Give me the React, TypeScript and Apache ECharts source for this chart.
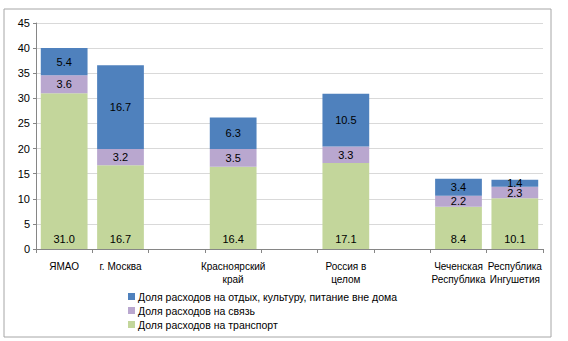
import React, { useEffect, useRef } from "react";
import * as echarts from "echarts";

const categories = ["ЯМАО", "г. Москва", "", "Красноярский\nкрай", "", "Россия в\nцелом", "", "Чеченская\nРеспублика", "Республика\nИнгушетия"];
const seriesNames = [
  "Доля расходов на отдых, культуру, питание вне дома",
  "Доля расходов на связь",
  "Доля расходов на транспорт",
];
const transport = [31.0, 16.7, null, 16.4, null, 17.1, null, 8.4, 10.1];
const communication = [3.6, 3.2, null, 3.5, null, 3.3, null, 2.2, 2.3];
const leisure = [5.4, 16.7, null, 6.3, null, 10.5, null, 3.4, 1.4];
const yTicks = { min: 0, max: 45, interval: 5 };

export default function App() {
  const ref = useRef<HTMLDivElement>(null);
  useEffect(() => {
    if (!ref.current) return;
    const chart = echarts.init(ref.current, null, { renderer: "svg" });
    const lbl = (pos: any, dist = 5) => ({
      show: true,
      position: pos,
      distance: dist,
      color: "#000",
      fontSize: 11,
      fontFamily: "Liberation Sans, Arial, sans-serif",
      formatter: (p: any) => (p.value == null ? "" : Number(p.value).toFixed(1)),
    });
    chart.setOption({
      animation: false,
      backgroundColor: "#fff",
      graphic: [
        {
          type: "rect",
          shape: { x: 4, y: 9, width: 547, height: 328 },
          style: { fill: "none", stroke: "#a6a6a6", lineWidth: 1 },
          silent: true,
        },
      ],
      grid: { left: 36, right: 25, top: 23, bottom: 92, containLabel: false },
      legend: {
        orient: "vertical",
        left: 128,
        top: 290,
        padding: 0,
        itemWidth: 7,
        itemHeight: 7,
        itemGap: 1,
        icon: "rect",
        data: seriesNames,
        textStyle: { fontSize: 10.5, lineHeight: 13, color: "#000", fontFamily: "Liberation Sans, Arial, sans-serif", padding: [0, 0, 0, -2] },
      },
      xAxis: {
        type: "category",
        data: categories,
        axisLine: { lineStyle: { color: "#868686" } },
        axisTick: { show: true, length: 4, alignWithLabel: false, lineStyle: { color: "#868686" } },
        axisLabel: {
          interval: 0,
          color: "#000",
          fontSize: 10,
          lineHeight: 13,
          margin: 11,
          fontFamily: "Liberation Sans Narrow, Liberation Sans, Arial, sans-serif",
        },
      },
      yAxis: {
        type: "value",
        min: yTicks.min,
        max: yTicks.max,
        interval: yTicks.interval,
        axisLine: { show: true, lineStyle: { color: "#868686" } },
        axisTick: { show: true, length: 3, inside: false, lineStyle: { color: "#868686" } },
        splitLine: { lineStyle: { color: "#d9d9d9" } },
        axisLabel: { color: "#000", fontSize: 11, margin: 6, fontFamily: "Liberation Sans, Arial, sans-serif" },
      },
      series: [
        {
          name: seriesNames[2],
          type: "bar",
          stack: "s",
          data: transport,
          barCategoryGap: "17%",
          itemStyle: { color: "#c3d69b" },
          label: lbl("insideBottom", 5),
        },
        {
          name: seriesNames[1],
          type: "bar",
          stack: "s",
          data: communication,
          itemStyle: { color: "#b9a7cf" },
          label: lbl("inside"),
        },
        {
          name: seriesNames[0],
          type: "bar",
          stack: "s",
          data: leisure,
          itemStyle: { color: "#4f81bd" },
          label: lbl("inside"),
        },
      ],
    });
    return () => chart.dispose();
  }, []);
  return <div ref={ref} style={{ position: "fixed", left: 0, top: 0, width: 568, height: 341 }} />;
}
